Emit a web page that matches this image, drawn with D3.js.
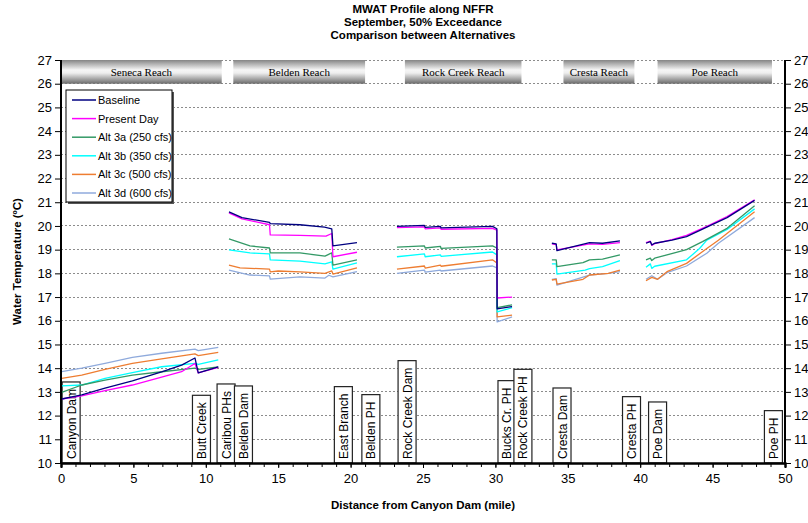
<!DOCTYPE html>
<html>
<head>
<meta charset="utf-8">
<script src="https://cdn.jsdelivr.net/npm/d3@7"></script>
<style>
  body { margin: 0; background: #fff; }
  svg { display: block; font-family: Arial, "Liberation Sans", sans-serif; }
</style>
</head>
<body>
<svg id="chart" width="808" height="523"></svg>
<script>
// ---- chart data ----
const titleLines = ["MWAT Profile along NFFR", "September, 50% Exceedance", "Comparison between Alternatives"];
const xTitle = "Distance from Canyon Dam (mile)";
const yTitle = "Water Temperature (ºC)";

const seriesNames = ["Baseline", "Present Day", "Alt 3a (250 cfs)", "Alt 3b (350 cfs)", "Alt 3c (500 cfs)", "Alt 3d (600 cfs)"];
const seriesColors = ["#000080", "#ff00ff", "#339966", "#00ffff", "#ee7d31", "#8faadc"];

// [mile, °C]; null separates the reaches
const baseline = [
  [0.05,12.70],[1.43,12.87],[3.04,13.16],[4.93,13.46],[6.95,13.84],[8.33,14.13],[9.25,14.43],[9.48,13.80],[10.86,14.05], null,
  [11.6,20.59],[12.5,20.35],[14.4,20.15],[14.45,20.10],[16.5,20.05],[18.2,19.95],[18.7,19.88],[18.78,19.16],[20.44,19.30], null,
  [23.2,19.98],[25.1,20.02],[25.15,19.94],[26.2,19.98],[26.25,19.92],[29.8,19.98],[30.1,19.88],[30.12,16.50],[31.15,16.60], null,
  [33.9,19.27],[34.2,19.24],[34.25,18.96],[36.5,19.30],[37.4,19.27],[38.6,19.37], null,
  [40.4,19.27],[40.7,19.34],[40.8,19.20],[41.0,19.27],[42.2,19.40],[43.2,19.55],[44.6,19.95],[46.0,20.35],[47.9,21.08]
];
const presentDay = [
  [0.05,12.70],[1.43,12.83],[3.04,13.05],[4.93,13.29],[6.95,13.62],[8.33,13.85],[9.25,14.20],[9.48,13.80],[10.86,14.03], null,
  [11.6,20.55],[12.5,20.30],[14.4,20.05],[14.45,19.62],[16.5,19.60],[18.3,19.57],[18.7,19.68],[18.78,18.70],[20.44,18.89], null,
  [23.2,19.93],[25.1,19.96],[25.15,19.88],[26.2,19.92],[26.25,19.86],[29.8,19.90],[30.1,19.82],[30.12,16.96],[31.15,17.00], null,
  [33.9,19.24],[34.2,19.21],[34.25,18.99],[36.5,19.24],[37.4,19.22],[38.6,19.30], null,
  [40.4,19.30],[40.7,19.36],[40.8,19.18],[41.0,19.25],[42.2,19.42],[43.2,19.60],[44.6,19.98],[46.0,20.40],[47.9,21.10]
];
const alt3a = [
  [0.05,12.98],[1.43,13.29],[3.04,13.50],[4.93,13.71],[6.95,13.85],[9.25,14.00],[9.48,13.95],[10.86,14.05], null,
  [11.6,19.45],[13.05,19.16],[14.4,19.07],[14.45,18.86],[16.5,18.86],[18.23,18.73],[18.7,18.86],[18.78,18.35],[20.44,18.57], null,
  [23.2,19.11],[25.1,19.16],[25.15,19.07],[26.2,19.14],[26.25,19.05],[29.8,19.16],[30.1,19.07],[30.12,16.55],[31.15,16.67], null,
  [33.9,18.57],[34.2,18.57],[34.25,18.28],[36.05,18.45],[36.5,18.57],[37.4,18.60],[38.6,18.78], null,
  [40.4,18.57],[40.7,18.64],[40.8,18.54],[41.0,18.64],[43.2,19.00],[44.3,19.34],[46.0,19.90],[47.9,20.85]
];
const alt3b = [
  [0.05,13.25],[1.43,13.29],[3.04,13.57],[4.93,13.81],[6.95,14.06],[9.25,14.20],[9.48,14.16],[10.86,14.35], null,
  [11.6,18.99],[13.05,18.86],[14.4,18.82],[14.45,18.57],[16.5,18.52],[18.23,18.40],[18.7,18.48],[18.78,18.18],[20.44,18.44], null,
  [23.2,18.70],[25.1,18.82],[25.15,18.70],[26.2,18.78],[26.25,18.72],[29.8,18.90],[30.1,18.78],[30.12,16.37],[31.15,16.55], null,
  [33.9,18.40],[34.2,18.40],[34.25,17.97],[36.2,18.14],[36.5,18.20],[37.4,18.28],[38.6,18.54], null,
  [40.4,18.26],[40.7,18.40],[40.8,18.21],[41.0,18.30],[43.2,18.57],[44.1,19.05],[44.6,19.40],[46.0,19.85],[47.9,20.72]
];
const alt3c = [
  [0.05,13.57],[1.43,13.71],[3.04,13.95],[4.93,14.20],[6.95,14.39],[9.25,14.60],[9.48,14.53],[10.86,14.67], null,
  [11.6,18.35],[12.36,18.23],[14.4,18.18],[14.45,18.06],[15.0,18.10],[16.5,18.06],[18.23,18.00],[18.7,18.10],[18.78,17.97],[20.44,18.23], null,
  [23.2,18.18],[25.1,18.31],[25.15,18.22],[26.2,18.35],[26.25,18.30],[29.8,18.57],[30.1,18.44],[30.12,16.16],[31.15,16.24], null,
  [33.9,17.72],[34.2,17.75],[34.25,17.55],[36.05,17.75],[36.5,17.93],[37.8,18.00],[38.6,18.14], null,
  [40.4,17.69],[40.8,17.83],[41.2,17.75],[41.85,18.07],[43.2,18.42],[44.6,19.05],[45.4,19.40],[47.9,20.60]
];
const alt3d = [
  [0.05,13.85],[1.43,14.00],[3.04,14.20],[4.93,14.46],[6.95,14.63],[9.25,14.80],[9.48,14.74],[10.86,14.88], null,
  [11.6,18.14],[13.05,17.93],[14.4,17.89],[14.45,17.76],[16.5,17.85],[18.23,17.80],[18.5,17.92],[18.78,17.85],[20.44,18.07], null,
  [23.2,18.00],[25.1,18.14],[25.15,18.05],[26.2,18.14],[26.25,18.10],[29.8,18.31],[30.1,18.23],[30.12,15.95],[31.15,16.16], null,
  [33.9,17.75],[34.2,17.78],[34.25,17.50],[36.5,17.93],[37.8,18.00],[38.6,18.07], null,
  [40.4,17.75],[40.8,17.90],[41.2,17.75],[41.85,18.03],[43.2,18.31],[44.6,18.85],[45.4,19.27],[47.9,20.35]
];
const seriesData = [baseline, presentDay, alt3a, alt3b, alt3c, alt3d];

// reach extents along the river (miles)
const reachNames = ["Seneca Reach", "Belden Reach", "Rock Creek Reach", "Cresta Reach", "Poe Reach"];
const reachStart = [0, 11.9, 23.75, 34.7, 41.2];
const reachEnd   = [11.1, 21.0, 31.8, 39.6, 49.1];

// river landmarks (miles)
const siteNames = ["Canyon Dam", "Butt Creek", "Caribou PHs", "Belden Dam", "East Branch", "Belden PH", "Rock Creek Dam",
                   "Bucks Cr. PH", "Rock Creek PH", "Cresta Dam", "Cresta PH", "Poe Dam", "Poe PH"];
const siteMiles = [0.7, 9.7, 11.4, 12.6, 19.5, 21.4, 23.9, 30.8, 31.9, 34.6, 39.4, 41.2, 49.2];

const yTickValues = d3.range(10, 28, 1);
const xMajorTicks = d3.range(0, 51, 5);
const xMinorTicks = d3.range(0, 51, 1);

// ---- layout ----
const W = 808, H = 523;
const margin = { left: 61, right: 23, top: 60, bottom: 60 };
const svg = d3.select("#chart");
const x = d3.scaleLinear().domain([0, 50]).range([margin.left, W - margin.right]);
const y = d3.scaleLinear().domain([10, 27]).range([H - margin.bottom, margin.top]);

// gridlines
svg.append("g").selectAll("line")
  .data(yTickValues.filter(v => v > 10))
  .join("line")
  .attr("x1", x(0)).attr("x2", x(50))
  .attr("y1", d => y(d)).attr("y2", d => y(d))
  .attr("stroke", "#8c8c8c").attr("stroke-width", 1)
  .attr("stroke-dasharray", "2,2")
  .attr("shape-rendering", "crispEdges");

// reach banners
const defs = svg.append("defs");
const grad = defs.append("linearGradient").attr("id", "bannerGrad")
  .attr("x1", 0).attr("x2", 0).attr("y1", 0).attr("y2", 1);
[[0, "#858585"], [0.42, "#f6f6f6"], [0.55, "#eeeeee"], [1, "#6a6a6a"]].forEach(([o, c]) =>
  grad.append("stop").attr("offset", o).attr("stop-color", c));

const banners = svg.append("g").selectAll("g")
  .data(reachNames.map((n, i) => ({ name: n, from: reachStart[i], to: reachEnd[i] })))
  .join("g");
banners.append("rect")
  .attr("x", d => x(d.from)).attr("width", d => x(d.to) - x(d.from))
  .attr("y", y(27)).attr("height", y(26) - y(27))
  .attr("fill", "url(#bannerGrad)");
banners.append("text")
  .attr("x", d => (x(d.from) + x(d.to)) / 2)
  .attr("y", (y(26) + y(27)) / 2)
  .attr("text-anchor", "middle").attr("dominant-baseline", "central")
  .attr("font-family", "'Liberation Serif', 'Times New Roman', serif")
  .attr("font-size", 11).attr("fill", "#000")
  .text(d => d.name);

// landmark boxes
const siteG = svg.append("g").selectAll("g")
  .data(siteNames.map((n, i) => ({ name: n, mile: siteMiles[i] })))
  .join("g")
  .attr("transform", d => `translate(${x(d.mile)},${y(10)})`);
siteG.append("rect").attr("class", "box");
siteG.append("text")
  .attr("transform", "translate(4.5,-4) rotate(-90)")
  .attr("font-size", 12).attr("fill", "#000")
  .text(d => d.name);
siteG.each(function () {
  const g = d3.select(this);
  const len = g.select("text").node().getComputedTextLength();
  g.select("rect")
    .attr("x", -9).attr("width", 18)
    .attr("y", -(len + 11)).attr("height", len + 11)
    .attr("fill", "#fff").attr("stroke", "#222").attr("stroke-width", 1.2);
});

// series lines
const line = d3.line().defined(d => d !== null).x(d => x(d[0])).y(d => y(d[1]));
const order = [5, 4, 3, 2, 1, 0];
svg.append("g").selectAll("path")
  .data(order)
  .join("path")
  .attr("d", i => line(seriesData[i]))
  .attr("fill", "none")
  .attr("stroke", i => seriesColors[i])
  .attr("stroke-width", 1.3)
  .attr("stroke-linejoin", "round");

// legend
const lg = svg.append("g");
lg.append("rect").attr("x", 68).attr("y", 92).attr("width", 106).attr("height", 112).attr("fill", "#555");
lg.append("rect").attr("x", 66).attr("y", 90).attr("width", 106).attr("height", 112)
  .attr("fill", "#fff").attr("stroke", "#000").attr("stroke-width", 1);
const rows = lg.selectAll("g.row").data(seriesNames).join("g").attr("class", "row")
  .attr("transform", (d, i) => `translate(0,${100 + i * 18.6})`);
rows.append("line").attr("x1", 72).attr("x2", 96).attr("y1", 0).attr("y2", 0)
  .attr("stroke", (d, i) => seriesColors[i]).attr("stroke-width", 1.5);
rows.append("text").attr("x", 98).attr("y", 0).attr("dominant-baseline", "central")
  .attr("font-size", 11).text(d => d);

// axes
const yLeft = d3.axisLeft(y).tickValues(yTickValues).tickSize(6).tickFormat(d3.format("d"));
const yRight = d3.axisRight(y).tickValues(yTickValues).tickSize(6).tickFormat(d3.format("d"));
const xMinor = d3.axisBottom(x).tickValues(xMinorTicks).tickSize(4).tickFormat("");
const xMajor = d3.axisBottom(x).tickValues(xMajorTicks).tickSize(5).tickFormat(d3.format("d"));

function styleAxis(g) {
  g.select(".domain").attr("stroke", "#000").attr("stroke-width", 2);
  g.selectAll(".tick line").attr("stroke", "#000").attr("stroke-width", 1);
  g.selectAll("text").attr("font-size", 13).attr("fill", "#000").attr("font-family", "Arial, 'Liberation Sans', sans-serif");
}
svg.append("g").attr("transform", `translate(0,${y(10)})`).call(xMinor).call(styleAxis);
svg.append("g").attr("transform", `translate(0,${y(10)})`).call(xMajor).call(styleAxis)
  .call(g => g.selectAll(".tick text").attr("dy", "0.95em"));
svg.append("g").attr("transform", `translate(${x(0)},0)`).call(yLeft).call(styleAxis)
  .call(g => g.select(".domain").attr("d", `M0,${y(27)}V${y(10)}`));
svg.append("g").attr("transform", `translate(${x(50)},0)`).call(yRight).call(styleAxis)
  .call(g => g.select(".domain").attr("d", `M0,${y(27)}V${y(10)}`));

// titles
svg.append("g").selectAll("text").data(titleLines).join("text")
  .attr("x", (x(0) + x(50)) / 2).attr("y", (d, i) => 13 + i * 13)
  .attr("text-anchor", "middle").attr("font-weight", "bold").attr("font-size", 11.5)
  .text(d => d);
svg.append("text")
  .attr("x", (x(0) + x(50)) / 2).attr("y", 509)
  .attr("text-anchor", "middle").attr("font-weight", "bold").attr("font-size", 11.5)
  .text(xTitle);
svg.append("text")
  .attr("transform", `translate(21,${(y(10) + y(27)) / 2}) rotate(-90)`)
  .attr("text-anchor", "middle").attr("font-weight", "bold").attr("font-size", 11.5)
  .text(yTitle);
</script>
</body>
</html>
